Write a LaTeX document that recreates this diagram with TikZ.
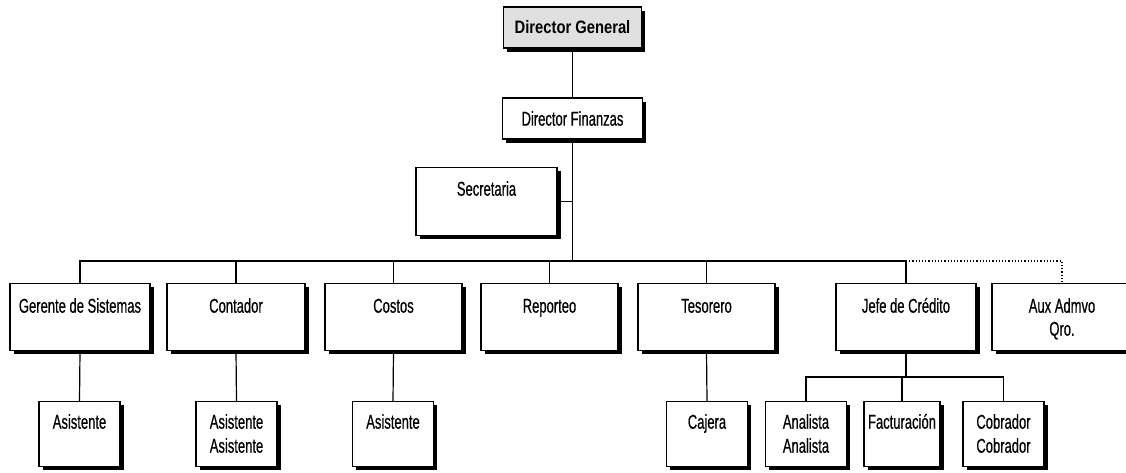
\documentclass[tikz,border=0pt]{standalone}
\usepackage{fontspec}
\setmainfont[FakeStretch=0.65,FakeBold=0.5]{Liberation Sans}
\newfontfamily\dgfont[FakeStretch=0.82]{Liberation Sans}
\usetikzlibrary{shadows}
\newcommand{\twoline}[2]{\begin{tabular}[t]{@{}c@{}}#1\\#2\end{tabular}}
\begin{document}
\begin{tikzpicture}[x=1pt,y=-1pt,
  box/.style={draw, line width=1.4pt, fill=white, inner sep=0pt,
    drop shadow={shadow xshift=3.5pt, shadow yshift=-3.5pt, fill=black, opacity=1},
    font=\fontsize{20pt}{23pt}\selectfont},
  rowbox/.style={box, minimum width=138pt, text height=29pt, text depth=38pt, anchor=north},
  lowbox/.style={box, minimum width=81pt, text height=27pt, text depth=38pt, anchor=north,
    font=\fontsize{20pt}{24pt}\selectfont},
  link/.style={line width=1.2pt},
  dotlink/.style={line width=1.2pt, dotted}]
\useasboundingbox (0,0) rectangle (1126,472);
% top
\node[box, fill=black!12, minimum width=138pt, minimum height=41pt,
  font=\dgfont\bfseries\fontsize{18pt}{20pt}\selectfont] (dg) at (572.5,27.5) {Director General};
\node[box, minimum width=140pt, minimum height=41pt] (df) at (572.5,118.5) {Director Finanzas};
\node[box, minimum width=141pt, text height=28pt, text depth=40pt, anchor=north] (sec) at (486.5,167) {Secretaria};
% middle row
\node[rowbox, minimum width=140pt] (gs) at (80,283) {Gerente de Sistemas};
\node[rowbox] (con) at (236,283) {Contador};
\node[rowbox, minimum width=137pt] (cos) at (393.5,283) {Costos};
\node[rowbox, minimum width=137pt] (rep) at (549.5,283) {Reporteo};
\node[rowbox, minimum width=137pt] (tes) at (706.5,283) {Tesorero};
\node[rowbox, minimum width=140pt] (jef) at (906,283) {Jefe de Crédito};
\node[rowbox, minimum width=140pt] (aux) at (1062,283) {\twoline{Aux Admvo}{Qro.}};
% bottom row
\node[lowbox] (a1) at (79.5,401) {Asistente};
\node[lowbox] (a2) at (236.5,401) {\twoline{Asistente}{Asistente}};
\node[lowbox] (a3) at (393,401) {Asistente};
\node[lowbox] (caj) at (707,401) {Cajera};
\node[lowbox] (ana) at (806,401) {\twoline{Analista}{Analista}};
\node[lowbox, minimum width=76pt] (fac) at (902,401) {Facturación};
\node[lowbox] (cob) at (1003.5,401) {\twoline{Cobrador}{Cobrador}};
% connectors
\coordinate (bus) at (572.5,261);
\coordinate (sub) at (906,377);
\draw[link] (dg) -- (df);
\draw[link] (df.south) -- (bus);
\draw[link] (sec.east) -- (sec.east -| bus);
\draw[link] (gs.north) |- (jef.north |- bus) -- (jef.north);
\foreach \n in {con,cos,rep,tes} \draw[link] (\n.north) -- (\n.north |- bus);
\draw[dotlink] (jef.north |- bus) -| (aux.north);
\draw[link] (gs.south) -- (a1.north);
\draw[link] (con.south) -- (a2.north);
\draw[link] (cos.south) -- (a3.north);
\draw[link] (tes.south) -- (caj.north);
\draw[link] (jef.south) -- (sub);
\draw[link] (ana.north) |- (cob.north |- sub) -- (cob.north);
\draw[link] (fac.north) -- (fac.north |- sub);
\end{tikzpicture}
\end{document}
